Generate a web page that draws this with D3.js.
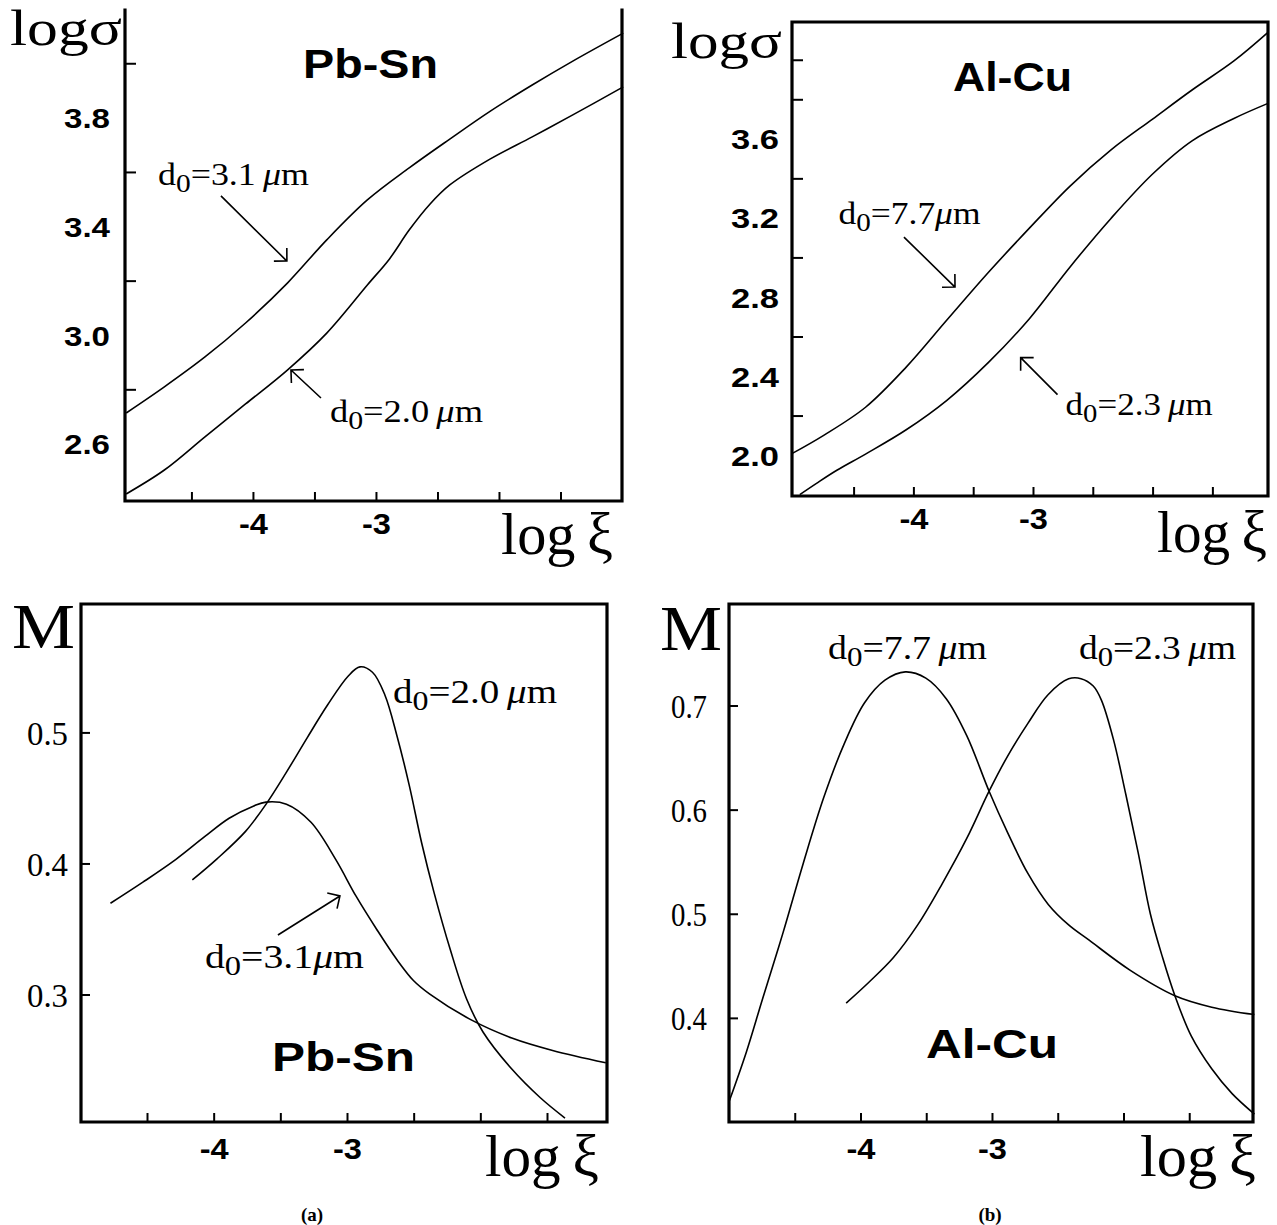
<!DOCTYPE html>
<html><head><meta charset="utf-8">
<script src="https://cdn.jsdelivr.net/npm/d3@7"></script>
<style>body{margin:0;background:#fff}svg{display:block}</style>
</head><body>
<svg id="c" width="1277" height="1225"></svg>
<script>
// ---------------- DATA ----------------
const xTickMinor = [-4.5, -4, -3.5, -3, -2.5, -2, -1.5];
const xTickLabels = [-4, -3];

const pbSnSigmaTicks = [2.8, 3.2, 3.6, 4.0];
const pbSnSigmaLabels = [2.6, 3.0, 3.4, 3.8];
const alCuSigmaTicks = [2.2, 2.6, 3.0, 3.4, 3.8, 4.0];
const alCuSigmaLabels = [2.0, 2.4, 2.8, 3.2, 3.6];
const pbSnMTicks = [0.3, 0.4, 0.5];
const alCuMTicks = [0.4, 0.5, 0.6, 0.7];

// Pb-Sn, log sigma vs log xi
const pbSnSigma31 = [[-5.03,2.713],[-4.72,2.809],[-4.39,2.919],[-4.06,3.044],[-3.72,3.191],[-3.40,3.35],[-3.07,3.497],[-2.73,3.615],[-2.40,3.721],[-2.07,3.824],[-1.73,3.92],[-1.40,4.008],[-0.99,4.111]];
const pbSnSigma20 = [[-5.03,2.415],[-4.72,2.503],[-4.39,2.625],[-4.06,2.746],[-3.72,2.871],[-3.40,3.007],[-3.07,3.184],[-2.89,3.28],[-2.73,3.386],[-2.56,3.482],[-2.40,3.552],[-2.07,3.648],[-1.73,3.729],[-1.40,3.81],[-0.99,3.913]];
// Al-Cu, log sigma vs log xi
const alCuSigma77 = [[-5.02,2.006],[-4.75,2.10],[-4.40,2.242],[-4.06,2.445],[-3.72,2.683],[-3.37,2.926],[-3.03,3.148],[-2.69,3.361],[-2.35,3.543],[-2.00,3.70],[-1.67,3.847],[-1.32,3.994],[-1.04,4.136]];
const alCuSigma23 = [[-4.95,1.80],[-4.81,1.857],[-4.64,1.923],[-4.40,2.005],[-4.06,2.128],[-3.72,2.277],[-3.37,2.47],[-3.03,2.69],[-2.69,2.952],[-2.35,3.196],[-2.00,3.422],[-1.67,3.59],[-1.32,3.703],[-1.04,3.778]];
// Pb-Sn, M vs log xi
const pbSnM31 = [[-4.774,0.3696],[-4.528,0.3859],[-4.283,0.4031],[-4.068,0.4204],[-3.884,0.4345],[-3.699,0.4439],[-3.608,0.4468],[-3.454,0.4452],[-3.27,0.4314],[-3.085,0.4031],[-2.932,0.375],[-2.778,0.3498],[-2.625,0.3265],[-2.50,0.3105],[-2.379,0.3003],[-2.072,0.2808],[-1.764,0.2668],[-1.458,0.2573],[-1.059,0.2479]];
const pbSnM20 = [[-4.16,0.3874],[-3.975,0.4035],[-3.761,0.4245],[-3.608,0.4451],[-3.454,0.4697],[-3.30,0.4957],[-3.146,0.5209],[-2.992,0.5429],[-2.903,0.550],[-2.809,0.5459],[-2.716,0.5286],[-2.625,0.4973],[-2.533,0.4596],[-2.44,0.4156],[-2.348,0.3781],[-2.225,0.3341],[-2.103,0.2966],[-1.98,0.2714],[-1.764,0.2431],[-1.55,0.2212],[-1.365,0.2057]];
// Al-Cu, M vs log xi
const alCuM77 = [[-5.0,0.3194],[-4.869,0.3668],[-4.745,0.4182],[-4.59,0.4814],[-4.435,0.5486],[-4.279,0.6118],[-4.124,0.6632],[-3.969,0.7026],[-3.814,0.7243],[-3.659,0.7323],[-3.503,0.7263],[-3.348,0.7066],[-3.192,0.6711],[-3.022,0.6177],[-2.882,0.5782],[-2.727,0.5387],[-2.572,0.509],[-2.417,0.4893],[-2.261,0.4746],[-1.951,0.4459],[-1.609,0.4213],[-1.329,0.4103],[-1.004,0.4032]];
const alCuM23 = [[-4.109,0.4142],[-3.938,0.434],[-3.751,0.4577],[-3.565,0.4893],[-3.379,0.5288],[-3.192,0.5723],[-3.022,0.6177],[-2.882,0.6512],[-2.727,0.6829],[-2.572,0.7106],[-2.417,0.7256],[-2.323,0.7258],[-2.23,0.7187],[-2.168,0.7052],[-2.075,0.6668],[-1.982,0.6145],[-1.888,0.5585],[-1.795,0.4995],[-1.702,0.4577],[-1.609,0.4213],[-1.485,0.3827],[-1.329,0.3511],[-1.174,0.3273],[-1.004,0.3076]];

// ---------------- LAYOUT / STYLE ----------------
const SERIF = '"Liberation Serif","Times New Roman",serif';
const SANS = '"Liberation Sans",Arial,sans-serif';
const svg = d3.select('#c');

const panels = [
  {box:{l:125,r:622,t:10,b:501}, xDom:[-5.04,-1.0], yDom:[2.389,4.196], topBorder:false,
   series:[pbSnSigma31,pbSnSigma20], yTicks:pbSnSigmaTicks, yLabels:pbSnSigmaLabels, yFmt:d3.format('.1f'),
   yFont:SANS, yWeight:'bold', ySize:28, yLen:46, yPad:15, yTickLen:11, xLabBase:33,
   yTitle:{t:'logσ',x:10,y:45,size:50,len:112}, xTitle:{x:501,y:554,len:112},
   title:{t:'Pb-Sn',x:-3.593,y:3.946,len:135},
   labels:[{x:-4.772,y:3.552,n:'3.1',sp:true,len:151,size:32},{x:-3.374,y:2.68,n:'2.0',sp:true,len:153,size:32}],
   arrows:[[-4.26,3.512,-3.724,3.272],[-3.447,2.768,-3.691,2.871]]},
  {box:{l:792,r:1268,t:22,b:496}, xDom:[-5.015,-1.035], yDom:[1.793,4.191], topBorder:true,
   series:[alCuSigma77,alCuSigma23], yTicks:alCuSigmaTicks, yLabels:alCuSigmaLabels, yFmt:d3.format('.1f'),
   yFont:SANS, yWeight:'bold', ySize:28, yLen:48, yPad:13, yTickLen:11, xLabBase:33,
   yTitle:{t:'logσ',x:671,y:58,size:50,len:111}, xTitle:{x:1157,y:552,len:110},
   title:{t:'Al-Cu',x:-3.669,y:3.842,len:119},
   labels:[{x:-4.626,y:3.169,n:'7.7',sp:false,len:142,size:32},{x:-2.727,y:2.2015,n:'2.3',sp:true,len:147,size:32}],
   arrows:[[-4.079,3.103,-3.652,2.85],[-2.795,2.306,-3.103,2.493]]},
  {box:{l:81,r:607,t:604,b:1122}, xDom:[-4.995,-1.05], yDom:[0.2027,0.598], topBorder:true,
   series:[pbSnM31,pbSnM20], yTicks:pbSnMTicks, yLabels:pbSnMTicks, yFmt:d3.format('.1f'),
   yFont:SERIF, yWeight:'normal', ySize:33, yLen:41, yPad:13, yTickLen:9, xLabBase:37,
   yTitle:{t:'M',x:12,y:648,size:64,len:63}, xTitle:{x:485,y:1176,len:114},
   title:{t:'Pb-Sn',x:-3.563,y:0.2413,len:143},
   labels:[{x:-2.655,y:0.5225,n:'2.0',sp:true,len:164,size:34},{x:-4.065,y:0.3202,n:'3.1',sp:false,len:159,size:34}],
   arrows:[[-3.518,0.3454,-3.053,0.3752]]},
  {box:{l:729,r:1253,t:604,b:1122}, xDom:[-5.0,-1.015], yDom:[0.30,0.7975], topBorder:true,
   series:[alCuM77,alCuM23], yTicks:alCuMTicks, yLabels:alCuMTicks, yFmt:d3.format('.1f'),
   yFont:SERIF, yWeight:'normal', ySize:33, yLen:36, yPad:22, yTickLen:9, xLabBase:37,
   yTitle:{t:'M',x:660,y:650,size:64,len:62}, xTitle:{x:1140,y:1176,len:116},
   title:{t:'Al-Cu',x:-3.502,y:0.3615,len:132},
   labels:[{x:-4.247,y:0.7442,n:'7.7',sp:true,len:159,size:34},{x:-2.338,y:0.7442,n:'2.3',sp:true,len:157,size:34}],
   arrows:[]}
];

function dLabel(g, x, y, lab){
  const t = g.append('text').attr('x',x).attr('y',y)
    .attr('font-family',SERIF).attr('font-size',lab.size).attr('fill','#000')
    .attr('textLength',lab.len).attr('lengthAdjust','spacingAndGlyphs');
  t.append('tspan').text('d');
  t.append('tspan').attr('font-size',lab.size*0.82).attr('dy',7).text('0');
  t.append('tspan').attr('dy',-7).text('=' + lab.n + (lab.sp ? '\u2009' : ''));
  t.append('tspan').attr('font-style','italic').text('μ');
  t.append('tspan').text('m');
}

panels.forEach(p => {
  const {l,r,t,b} = p.box;
  const x = d3.scaleLinear().domain(p.xDom).range([l,r]);
  const y = d3.scaleLinear().domain(p.yDom).range([b,t]);
  const g = svg.append('g');

  // curves
  const line = d3.line().x(d=>x(d[0])).y(d=>y(d[1])).curve(d3.curveCatmullRom.alpha(0.5));
  p.series.forEach(s => {
    g.append('path').attr('d', line(s)).attr('fill','none').attr('stroke','#000')
      .attr('stroke-width',1.6).attr('stroke-linejoin','round');
  });

  // x ticks (inward)
  const xAx = g.append('g').attr('transform',`translate(0,${b})`)
    .call(d3.axisBottom(x).tickValues(xTickMinor).tickSize(-9).tickFormat(''));
  xAx.select('.domain').remove();
  xAx.selectAll('line').attr('stroke','#000').attr('stroke-width',2);
  // x labels
  const xLab = g.append('g').attr('transform',`translate(0,${b})`)
    .call(d3.axisBottom(x).tickValues(xTickLabels).tickSize(0).tickFormat(d=>String(d)));
  xLab.select('.domain').remove();
  xLab.selectAll('text').attr('y',p.xLabBase).attr('dy',null)
    .attr('font-family',SANS).attr('font-weight','bold').attr('font-size',29).attr('fill','#000')
    .attr('textLength',29).attr('lengthAdjust','spacingAndGlyphs');

  // y ticks
  const yAx = g.append('g').attr('transform',`translate(${l},0)`)
    .call(d3.axisLeft(y).tickValues(p.yTicks).tickSize(-p.yTickLen).tickFormat(''));
  yAx.select('.domain').remove();
  yAx.selectAll('line').attr('stroke','#000').attr('stroke-width',2);
  // y labels
  const yLab = g.append('g').attr('transform',`translate(${l},0)`)
    .call(d3.axisLeft(y).tickValues(p.yLabels).tickSize(0).tickPadding(p.yPad).tickFormat(p.yFmt));
  yLab.select('.domain').remove();
  yLab.selectAll('text').attr('font-family',p.yFont).attr('font-weight',p.yWeight)
    .attr('font-size',p.ySize).attr('fill','#000').attr('dy','0.36em')
    .attr('textLength',p.yLen).attr('lengthAdjust','spacingAndGlyphs');

  // frame
  const fr = p.topBorder
    ? `M${l},${t}H${r}V${b}H${l}Z`
    : `M${l},${t}V${b}H${r}V${t}`;
  g.append('path').attr('d',fr).attr('fill','none').attr('stroke','#000')
    .attr('stroke-width',3.2).attr('stroke-linecap','square');

  // axis titles
  g.append('text').attr('x',p.yTitle.x).attr('y',p.yTitle.y).text(p.yTitle.t)
    .attr('font-family',SERIF).attr('font-size',p.yTitle.size).attr('fill','#000')
    .attr('textLength',p.yTitle.len).attr('lengthAdjust','spacingAndGlyphs');
  g.append('text').attr('x',p.xTitle.x).attr('y',p.xTitle.y).text('log\u2009ξ')
    .attr('font-family',SERIF).attr('font-size',60).attr('fill','#000')
    .attr('textLength',p.xTitle.len).attr('lengthAdjust','spacingAndGlyphs');

  // panel title
  g.append('text').attr('x',x(p.title.x)).attr('y',y(p.title.y)).text(p.title.t)
    .attr('font-family',SANS).attr('font-weight','bold').attr('font-size',41).attr('fill','#000')
    .attr('textLength',p.title.len).attr('lengthAdjust','spacingAndGlyphs');

  // d0 labels
  p.labels.forEach(lab => dLabel(g, x(lab.x), y(lab.y), lab));

  // arrows
  p.arrows.forEach(a => {
    const x0=x(a[0]), y0=y(a[1]), x1=x(a[2]), y1=y(a[3]);
    const ang = Math.atan2(y0-y1, x0-x1);
    const hl = 13, ha = Math.PI/4;
    const path = `M${x0},${y0}L${x1},${y1}` +
      `M${x1+hl*Math.cos(ang+ha)},${y1+hl*Math.sin(ang+ha)}L${x1},${y1}L${x1+hl*Math.cos(ang-ha)},${y1+hl*Math.sin(ang-ha)}`;
    g.append('path').attr('d',path).attr('fill','none').attr('stroke','#000').attr('stroke-width',1.6);
  });
});

// sub-figure captions
svg.append('text').attr('x',312).attr('y',1221).attr('text-anchor','middle').text('(a)')
  .attr('font-family',SERIF).attr('font-weight','bold').attr('font-size',19).attr('fill','#000');
svg.append('text').attr('x',990).attr('y',1221).attr('text-anchor','middle').text('(b)')
  .attr('font-family',SERIF).attr('font-weight','bold').attr('font-size',19).attr('fill','#000');
</script>
</body></html>
